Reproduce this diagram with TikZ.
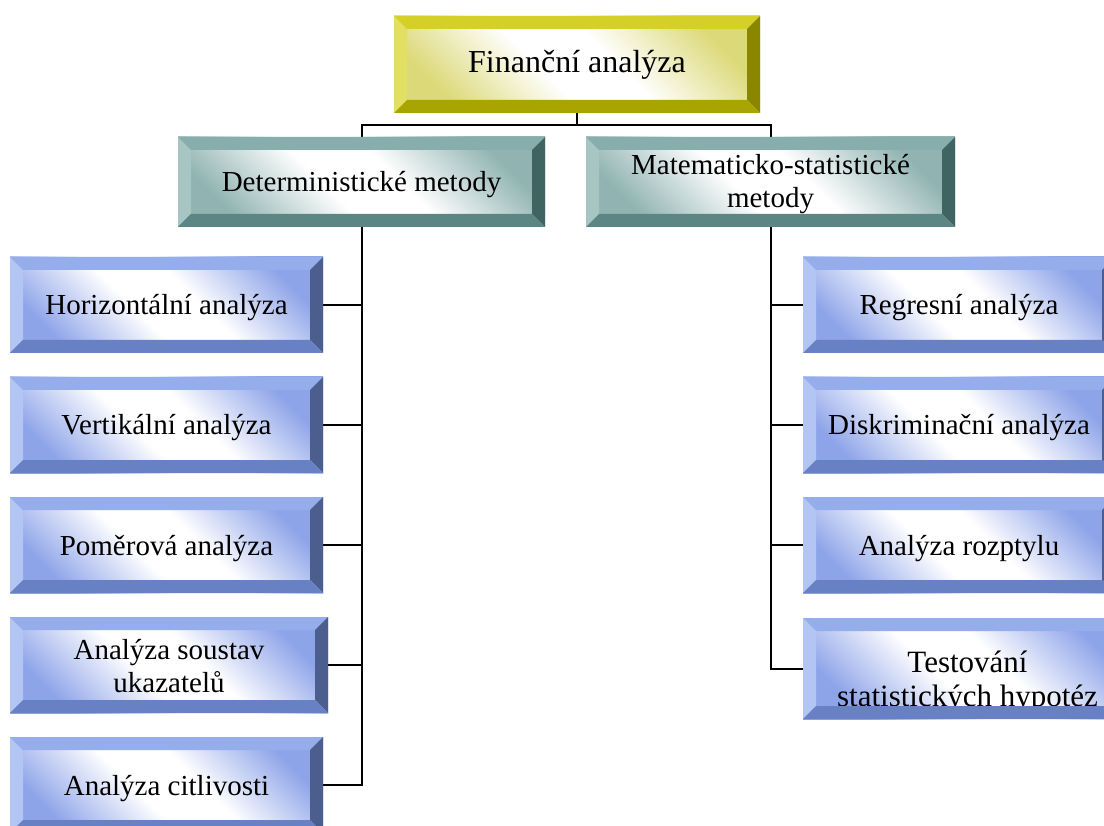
\documentclass[tikz,border=0pt]{standalone}
\usepackage{fontspec}
\setmainfont{Liberation Serif}
\definecolor{BlT}{RGB}{149,173,235}
\definecolor{BlL}{RGB}{178,197,243}
\definecolor{BlR}{RGB}{75,94,142}
\definecolor{BlB}{RGB}{104,129,196}
\definecolor{BlO}{RGB}{142,164,233}
\definecolor{TeT}{RGB}{135,174,172}
\definecolor{TeL}{RGB}{166,197,195}
\definecolor{TeR}{RGB}{64,100,98}
\definecolor{TeB}{RGB}{92,134,132}
\definecolor{TeO}{RGB}{145,180,178}
\definecolor{YeT}{RGB}{212,208,40}
\definecolor{YeL}{RGB}{226,223,100}
\definecolor{YeR}{RGB}{138,134,0}
\definecolor{YeB}{RGB}{168,164,0}
\definecolor{YeO}{RGB}{220,217,120}
\pgfdeclarehorizontalshading{faceBlue}{100bp}{color(0bp)=(BlO); color(25bp)=(BlO); color(44bp)=(white); color(56bp)=(white); color(75bp)=(BlO); color(100bp)=(BlO)}
\pgfdeclarehorizontalshading{faceTeal}{100bp}{color(0bp)=(TeO); color(25bp)=(TeO); color(44bp)=(white); color(56bp)=(white); color(75bp)=(TeO); color(100bp)=(TeO)}
\pgfdeclarehorizontalshading{faceYellow}{100bp}{color(0bp)=(YeO); color(25bp)=(YeO); color(44bp)=(white); color(56bp)=(white); color(75bp)=(YeO); color(100bp)=(YeO)}
\newcommand\mybevel[2]{%
  \fill[#2L] (#1.north west) -- ([shift={(13pt,-13pt)}]#1.north west) -- ([shift={(13pt,13pt)}]#1.south west) -- (#1.south west) -- cycle;
  \fill[#2T] (#1.north west) -- (#1.north east) -- ([shift={(-13pt,-13pt)}]#1.north east) -- ([shift={(13pt,-13pt)}]#1.north west) -- cycle;
  \fill[#2R] (#1.north east) -- (#1.south east) -- ([shift={(-13pt,13pt)}]#1.south east) -- ([shift={(-13pt,-13pt)}]#1.north east) -- cycle;
  \fill[#2B] (#1.south west) -- (#1.south east) -- ([shift={(-13pt,13pt)}]#1.south east) -- ([shift={(13pt,13pt)}]#1.south west) -- cycle;
}
\begin{document}
\begin{tikzpicture}[x=1pt,y=-1pt,
  box/.style={shade, inner sep=0pt, outer sep=0pt, align=center, text=black, shading angle=45,
    text height=24pt, text depth=4pt, font=\fontsize{29}{33}\selectfont},
  bluebox/.style={box, shading=faceBlue, minimum width=313pt, minimum height=96pt},
  tealbox/.style={box, shading=faceTeal, minimum height=90pt},
  yellowbox/.style={box, shading=faceYellow, font=\fontsize{32}{36}\selectfont, text height=25pt, text depth=8pt},
  link/.style={line width=2pt, draw=black}]
\useasboundingbox (0,0) rectangle (1104,826);
\clip (0,0) rectangle (1104,826);
\fill[white] (0,0) rectangle (1104,826);

\node[yellowbox, minimum width=366pt, minimum height=97pt] (top) at (577,64.5) {Finanční analýza};
\node[tealbox, minimum width=367pt] (det) at (361.5,182) {Deterministické metody};
\node[tealbox, minimum width=369pt, text height=58pt, text depth=6pt] (mat) at (770.5,182) {Matematicko-statistické\\metody};

\node[bluebox] (L1) at (166.5,305) {Horizontální analýza};
\node[bluebox] (L2) at (166.5,425) {Vertikální analýza};
\node[bluebox] (L3) at (166.5,545) {Poměrová analýza};
\node[bluebox, minimum width=318pt, text height=60pt, text depth=6pt] (L4) at (169,665) {Analýza soustav\\ukazatelů};
\node[bluebox] (L5) at (166.5,785) {Analýza citlivosti};

\node[bluebox, minimum width=312pt] (R1) at (959,305) {Regresní analýza};
\node[bluebox, minimum width=312pt] (R2) at (959,425) {Diskriminační analýza};
\node[bluebox, minimum width=312pt] (R3) at (959,545) {Analýza rozptylu};
\node[bluebox, minimum width=329pt, minimum height=101pt, text height=81pt, text depth=6pt, font=\fontsize{31}{34}\selectfont] (R4) at (967.5,668.5) {Testování\\statistických hypotéz};

\coordinate (j) at (577,125);
\draw[link] (top.south) -- (j);
\draw[link] (det.north) |- (j) -| (mat.north);
\draw[link] (det.south) |- (L5.east);
\foreach \n in {L1,L2,L3,L4} \draw[link] (\n.east) -- (\n.east -| det.south);
\draw[link] (mat.south) |- (R4.west);
\foreach \n in {R1,R2,R3} \draw[link] (\n.west) -- (\n.west -| mat.south);

\mybevel{top}{Ye}
\mybevel{det}{Te}
\mybevel{mat}{Te}
\foreach \n in {L1,L2,L3,L4,L5,R1,R2,R3,R4} {\mybevel{\n}{Bl}}
\end{tikzpicture}
\end{document}
